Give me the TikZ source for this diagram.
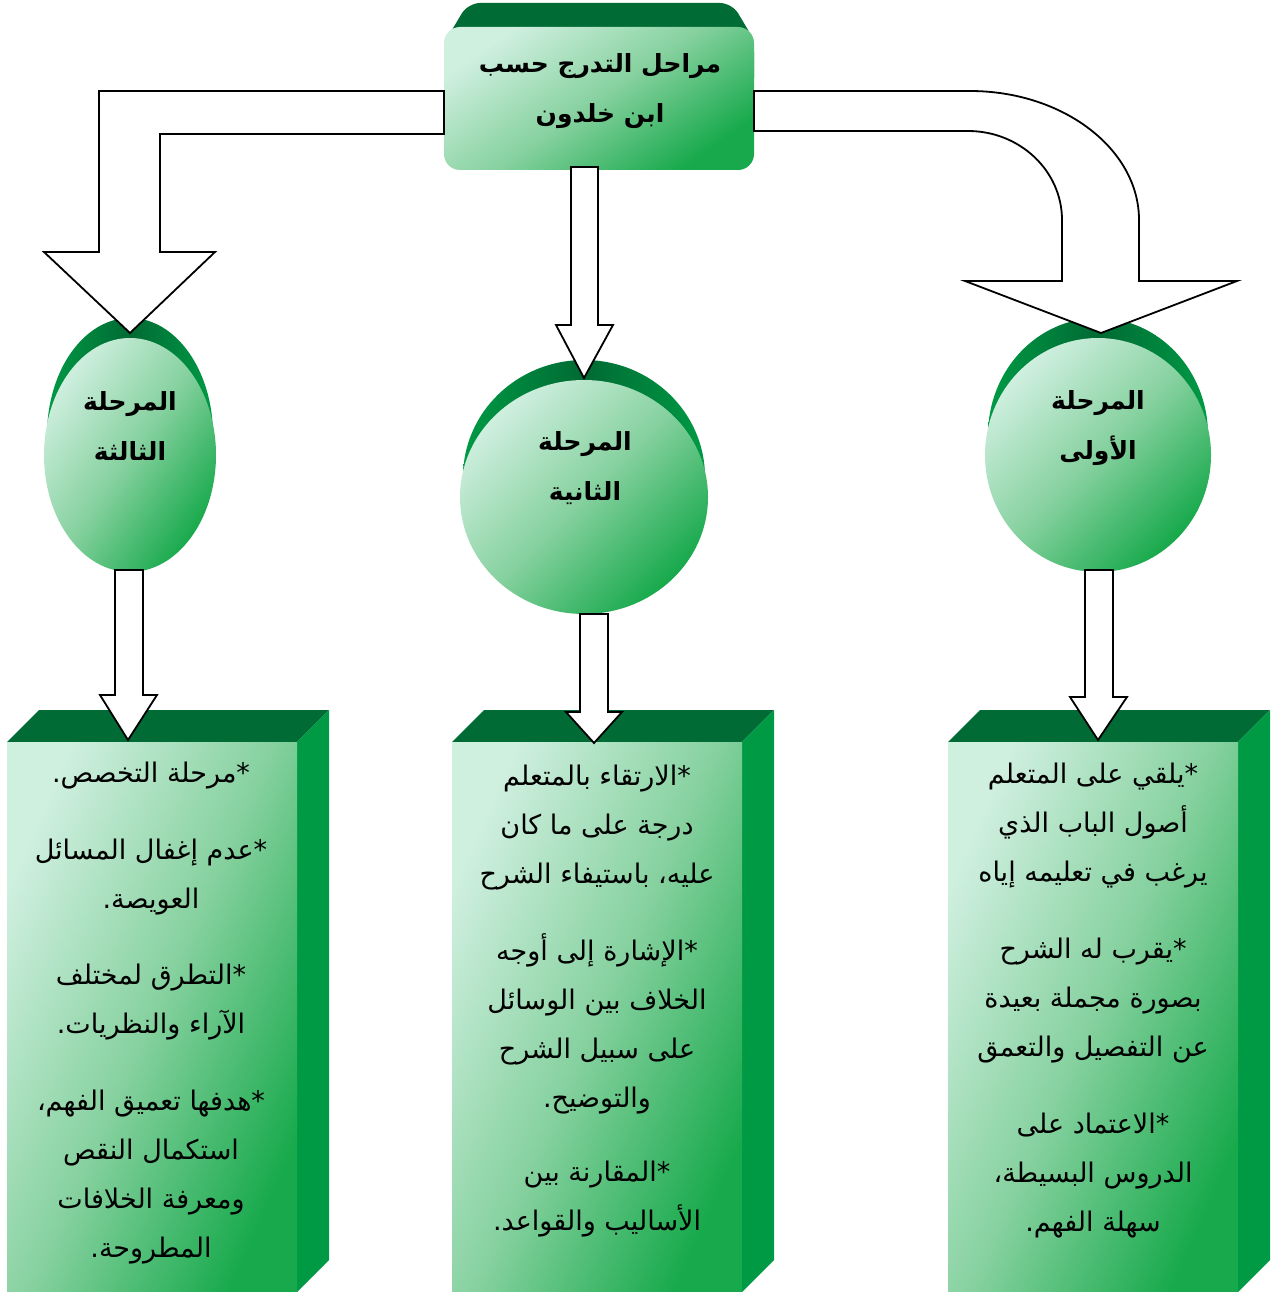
\documentclass[tikz,border=0pt]{standalone}
\usepackage{fontspec}
\TeXXeTstate=1
\newfontfamily\arabicfont[Script=Arabic]{DejaVu Sans}
\newcommand\rl[1]{\beginR #1\endR}
\definecolor{facelight}{HTML}{CFEFDF}
\definecolor{facemid}{HTML}{86D19F}
\definecolor{facedark}{HTML}{17A94B}
\definecolor{topgreen}{HTML}{006B35}
\definecolor{sidegreen}{HTML}{009A45}
\definecolor{rimdark}{HTML}{006A33}
\definecolor{rimlight}{HTML}{009A45}
\tikzset{
  face/.style={top color=facelight, bottom color=facedark, middle color=facemid, shading angle=#1},
  face/.default=45,
  topface/.style={fill=topgreen},
  sideface/.style={fill=sidegreen},
  rim/.style={left color=rimlight, right color=rimlight, middle color=rimdark},
  blockarrow/.style={draw=black, fill=white, line width=1.8pt, line join=miter},
  title/.style={font=\arabicfont\bfseries\fontsize{25}{50}\selectfont, align=center, text=black},
  body/.style={font=\arabicfont\fontsize{27}{49}\selectfont, align=center, text=black},
}
\begin{document}
\begin{tikzpicture}[x=1pt, y=-1pt]
\useasboundingbox (0,0) rectangle (1272,1292);

% top title block
\fill[topgreen, rounded corners=12pt] (446,90) -- (446,40) -- (468,3) -- (732,3) -- (754,40) -- (754,90) -- cycle;
\shade[face=35, rounded corners=16pt] (444,27) rectangle (754,170);
\node[title] (title) at (600,91) {\rl{مراحل التدرج حسب}\\\rl{ابن خلدون}};

% stage discs
\shade[rim] (1098,435) ellipse [x radius=110, y radius=117];
\shade[face] (1098,455) ellipse [x radius=113, y radius=117];
\node[title] (s1) at (1098,428) {\rl{المرحلة}\\\rl{الأولى}};

\shade[rim] (584,477) ellipse [x radius=121, y radius=117];
\shade[face] (584,497) ellipse [x radius=124, y radius=117];
\node[title] (s2) at (585,468) {\rl{المرحلة}\\\rl{الثانية}};

\shade[rim] (130,435) ellipse [x radius=83, y radius=117];
\shade[face=55] (130,455) ellipse [x radius=86, y radius=117];
\node[title] (s3) at (130,426) {\rl{المرحلة}\\\rl{الثالثة}};

% content prisms
\foreach \x in {7,452,948} {
  \fill[topface] (\x,742) -- (\x+32,710) -- (\x+322,710) -- (\x+290,742) -- cycle;
  \fill[sideface] (\x+290,742) -- (\x+322,710) -- (\x+322,1260) -- (\x+290,1292) -- cycle;
  \shade[face=66] (\x,742) rectangle (\x+290,1292);
}

\node[body] (p1) at (1093,1001) {\rl{*يلقي على المتعلم}\\\rl{أصول الباب الذي}\\\rl{يرغب في تعليمه إياه}\\[28pt]
  \rl{*يقرب له الشرح}\\\rl{بصورة مجملة بعيدة}\\\rl{عن التفصيل والتعمق}\\[28pt]
  \rl{*الاعتماد على}\\\rl{الدروس البسيطة،}\\\rl{سهلة الفهم.}};

\node[body] (p2) at (597,1001) {\rl{*الارتقاء بالمتعلم}\\\rl{درجة على ما كان}\\\rl{عليه، باستيفاء الشرح}\\[28pt]
  \rl{*الإشارة إلى أوجه}\\\rl{الخلاف بين الوسائل}\\\rl{على سبيل الشرح}\\\rl{والتوضيح.}\\[25pt]
  \rl{*المقارنة بين}\\\rl{الأساليب والقواعد.}};

\node[body] (p3) at (151,1013) {\rl{*مرحلة التخصص.}\\[28pt]
  \rl{*عدم إغفال المسائل}\\\rl{العويصة.}\\[27pt]
  \rl{*التطرق لمختلف}\\\rl{الآراء والنظريات.}\\[28pt]
  \rl{*هدفها تعميق الفهم،}\\\rl{استكمال النقص}\\\rl{ومعرفة الخلافات}\\\rl{المطروحة.}};

% block arrows from the title
\draw[blockarrow] (444,91) -- (99,91) -- (99,252) -- (44,252) -- (130,333) -- (215,252)
  -- (160,252) -- (160,134) -- (444,134) -- cycle;
\draw[blockarrow] (571,167) -- (571,325) -- (556,325) -- (584,378) -- (613,325)
  -- (598,325) -- (598,167) -- cycle;
\draw[blockarrow] (754,91) -- (970,91) .. controls (1063,91) and (1139,149) .. (1139,220)
  -- (1139,281) -- (1237,281) -- (1101,333) -- (965,281) -- (1062,281) -- (1062,220)
  .. controls (1062,171) and (1020,131) .. (968,131) -- (754,131) -- cycle;

% block arrows from the discs
\draw[blockarrow] (115,570) -- (115,695) -- (100,695) -- (128,740) -- (157,695)
  -- (143,695) -- (143,570) -- cycle;
\draw[blockarrow] (580,614) -- (580,712) -- (566,712) -- (594,743) -- (622,712)
  -- (608,712) -- (608,614) -- cycle;
\draw[blockarrow] (1085,570) -- (1085,697) -- (1070,697) -- (1098,740) -- (1127,697)
  -- (1113,697) -- (1113,570) -- cycle;
\end{tikzpicture}
\end{document}
